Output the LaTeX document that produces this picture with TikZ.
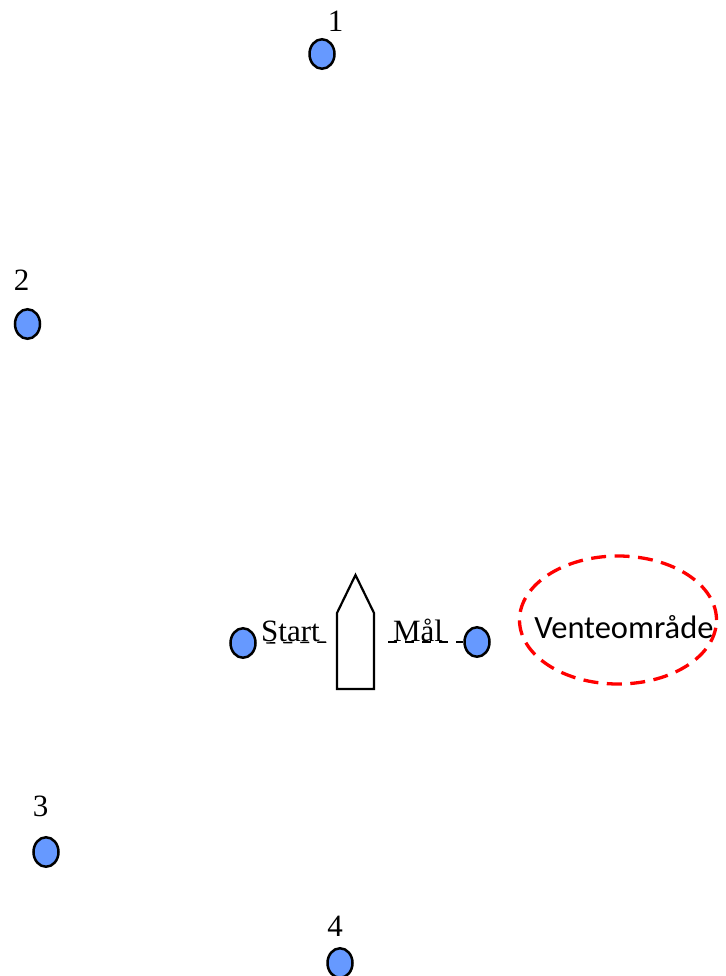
\documentclass[tikz,border=0pt]{standalone}
\usepackage{fontspec}
\setmainfont{Liberation Serif}
\newfontfamily\sonefont{Carlito}
\usetikzlibrary{shapes.geometric}
\definecolor{bojeblaa}{RGB}{102,153,255}
\tikzset{
    %Define style for buoys
    boje/.style={
           ellipse,
           draw=black, line width=2.5pt,
           fill=bojeblaa,
           minimum width=25pt,
           minimum height=29.5pt,
           inner sep=0pt},
    %Define style for numbers and names
    nummer/.style={
           inner sep=0pt,
           font=\fontsize{31}{31}\selectfont},
    navn/.style={
           inner sep=0pt,
           anchor=base,
           font=\fontsize{31}{31}\selectfont},
    %Define style for the waiting area
    sone/.style={
           ellipse,
           draw=red, line width=3.3pt,
           dash pattern=on 15pt off 8.5pt,
           minimum width=197pt,
           minimum height=128pt},
    sonetekst/.style={
           inner sep=0pt,
           anchor=base,
           font=\sonefont\fontsize{32.5}{32.5}\selectfont},
    % Define line styles
    baat/.style={
           draw=black, line width=2.2pt,
           line join=miter},
    linje/.style={
           draw=black, line width=1.4pt,
           dash pattern=on 9pt off 8pt}
}
\begin{document}
\begin{tikzpicture}[x=1pt,y=-1pt]
\useasboundingbox (0,0) rectangle (725,976);
\node[boje](b1) at (322,54){};
\node[boje](b2) at (27.5,324){};
\node[boje](b3) at (46,852){};
\node[boje](b4) at (340,963){};
\node[boje](start) at (243,643){};
\node[boje](maal) at (477,642){};
\node[nummer](n1) at (335.5,21){1};
\node[nummer](n2) at (21.7,280){2};
\node[nummer](n3) at (40.5,806){3};
\node[nummer](n4) at (335,926){4};
% boat
\draw[baat] (337,689) -- (337,613) -- (355.5,575) -- (374,613) -- (374,689) -- cycle;
\coordinate (baatv) at (337,642);
\coordinate (baath) at (374,642);
\path[linje]
	([xshift=9.5pt]start.east) edge ([xshift=-6pt]baatv)
	([xshift=14pt]baath) edge (maal.west);
\node[navn](starttekst) at (290.5,641){Start};
\node[navn](maaltekst) at (418,641){Mål};
\node[sone](vente) at (618,620){};
\node[sonetekst](ventetekst) at (624,638){Venteområde};
\end{tikzpicture}
\end{document}
